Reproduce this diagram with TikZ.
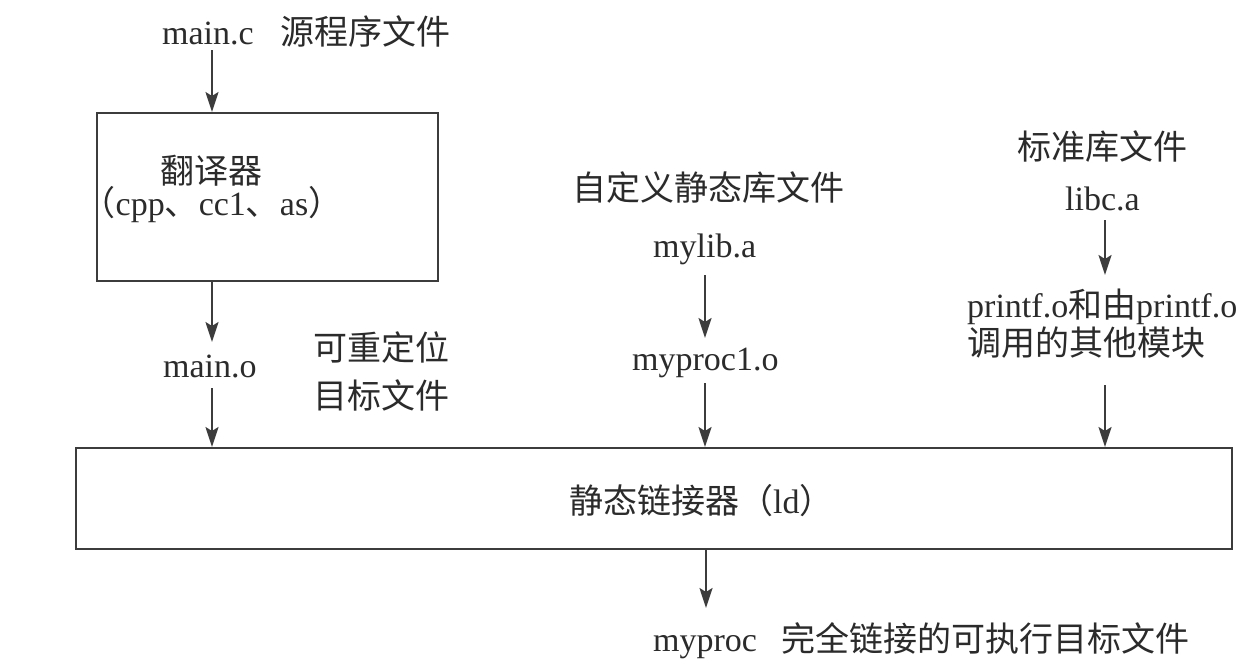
\documentclass[tikz,border=0pt]{standalone}
\usepackage{fontspec}
\setmainfont{Liberation Serif}
\newfontfamily\cjk{Noto Sans CJK SC}
\usetikzlibrary{arrows.meta,calc}
\definecolor{ink}{HTML}{2B2B2B}
\definecolor{linec}{HTML}{3C3C3C}
\begin{document}
\begin{tikzpicture}[x=1pt,y=-1pt,
  lbl/.style={anchor=base west, inner sep=0pt, text=ink, font=\fontsize{34}{40}\selectfont},
  boxed/.style={draw=linec, line width=2pt, fill=white, inner sep=0pt},
  arr/.style={draw=linec, line width=2pt, -{Stealth[length=20pt,width=13pt,inset=4pt]}}]
\fill[white] (0,0) rectangle (1253,670);
\useasboundingbox (0,0) rectangle (1253,670);

% boxes
\node[boxed, minimum width=341pt, minimum height=168pt] (box1) at (267.5,197) {};
\node[boxed, minimum width=1156pt, minimum height=101pt] (big) at (654,498.5) {};

% column coordinates
\coordinate (colA) at (212,0);
\coordinate (colB) at (705,0);
\coordinate (colC) at (1105,0);
\coordinate (colD) at (706,0);

% texts
\node[lbl] (mainc) at (162,44) {main.c};
\node[lbl] (srcf) at (280,44) {\cjk 源程序文件};
\node[lbl] (trans) at (160,183) {\cjk 翻译器};
\node[lbl, anchor=base] (tools) at (212,215) {{\cjk （}cpp{\cjk 、}cc1{\cjk 、}as{\cjk ）}};
\node[lbl] (maino) at (163,377) {main.o};
\node[lbl] (reloc1) at (313,360) {\cjk 可重定位};
\node[lbl] (reloc2) at (313,408) {\cjk 目标文件};
\node[lbl] (custom) at (572,200) {\cjk 自定义静态库文件};
\node[lbl] (mylib) at (653,257) {mylib.a};
\node[lbl] (myproc1) at (632,370) {myproc1.o};
\node[lbl] (stdlib) at (1017,159) {\cjk 标准库文件};
\node[lbl] (libc) at (1065,210) {libc.a};
\node[lbl] (printf) at (967,317) {printf.o{\cjk 和由}printf.o};
\node[lbl] (calls) at (967,355) {\cjk 调用的其他模块};
\node[lbl] (ld) at (569,513) {{\cjk 静态链接器（}ld{\cjk ）}};
\node[lbl] (myproc) at (653,651) {myproc};
\node[lbl] (exe) at (781,651) {\cjk 完全链接的可执行目标文件};

% arrows
\draw[arr] ($(colA |- mainc.base)+(0,6)$) -- (colA |- box1.north);
\draw[arr] (colA |- box1.south) -- ($(colA |- maino.base)+(0,-35)$);
\draw[arr] ($(colA |- maino.base)+(0,11)$) -- (colA |- big.north);
\draw[arr] ($(colB |- mylib.base)+(0,18)$) -- ($(colB |- myproc1.base)+(0,-32)$);
\draw[arr] ($(colB |- myproc1.base)+(0,13)$) -- (colB |- big.north);
\draw[arr] ($(colC |- libc.base)+(0,10)$) -- ($(colC |- printf.base)+(0,-42)$);
\draw[arr] ($(colC |- calls.base)+(0,30)$) -- (colC |- big.north);
\draw[arr] (colD |- big.south) -- ($(colD |- myproc.base)+(0,-43)$);
\end{tikzpicture}
\end{document}
